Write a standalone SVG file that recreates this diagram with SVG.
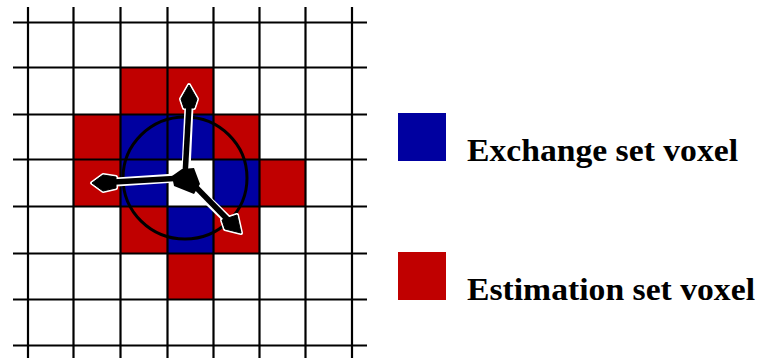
<svg xmlns="http://www.w3.org/2000/svg" width="759" height="358" viewBox="0 0 759 358">
<style>
.red{fill:#c00000}
.blue{fill:#0000a0}
.grid line{stroke:#000;stroke-width:2.2}
.lbl{font-family:"Liberation Serif","Times New Roman",serif;font-weight:bold;font-size:32px;fill:#000}
.ow{fill:none;stroke:#fff;stroke-width:9;stroke-linecap:round}
.oh{fill:#fff;stroke:#fff;stroke-width:4;stroke-linejoin:round}
.bs{fill:none;stroke:#000;stroke-width:5.5}
.bh{fill:#000;stroke:#000;stroke-width:1;stroke-linejoin:round}
</style>
<rect width="759" height="358" fill="#fff"/>
<g id="cells">
<rect class="red" x="120.5" y="67.5" width="47" height="47"/>
<rect class="red" x="167.5" y="67.5" width="46" height="47"/>
<rect class="red" x="73.5" y="114.5" width="47" height="45"/>
<rect class="blue" x="120.5" y="114.5" width="47" height="45"/>
<rect class="blue" x="167.5" y="114.5" width="46" height="45"/>
<rect class="red" x="213.5" y="114.5" width="46" height="45"/>
<rect class="red" x="73.5" y="159.5" width="47" height="47"/>
<rect class="blue" x="120.5" y="159.5" width="47" height="47"/>
<rect class="blue" x="213.5" y="159.5" width="46" height="47"/>
<rect class="red" x="259.5" y="159.5" width="46" height="47"/>
<rect class="red" x="120.5" y="206.5" width="47" height="47"/>
<rect class="blue" x="167.5" y="206.5" width="46" height="47"/>
<rect class="red" x="213.5" y="206.5" width="46" height="47"/>
<rect class="red" x="167.5" y="253.5" width="46" height="46"/>
</g>
<g id="grid" class="grid">
<line x1="28" y1="7" x2="28" y2="358"/>
<line x1="73.5" y1="7" x2="73.5" y2="358"/>
<line x1="120.5" y1="7" x2="120.5" y2="358"/>
<line x1="167.5" y1="7" x2="167.5" y2="358"/>
<line x1="213.5" y1="7" x2="213.5" y2="358"/>
<line x1="259.5" y1="7" x2="259.5" y2="358"/>
<line x1="305.5" y1="7" x2="305.5" y2="358"/>
<line x1="352" y1="7" x2="352" y2="358"/>
<line x1="13" y1="22.5" x2="367" y2="22.5"/>
<line x1="13" y1="67.5" x2="367" y2="67.5"/>
<line x1="13" y1="114.5" x2="367" y2="114.5"/>
<line x1="13" y1="159.5" x2="367" y2="159.5"/>
<line x1="13" y1="206.5" x2="367" y2="206.5"/>
<line x1="13" y1="253.5" x2="367" y2="253.5"/>
<line x1="13" y1="299.5" x2="367" y2="299.5"/>
<line x1="13" y1="345.5" x2="367" y2="345.5"/>
</g>
<g id="circle">
<ellipse cx="185" cy="178" rx="62" ry="61" fill="none" stroke="#000" stroke-width="3"/>
</g>
<g id="connectors">
<path class="ow" d="M186 170 L189 106"/>
<polygon class="oh" points="189,85 197,99 194,108 184,108 181,99"/>
<path class="ow" d="M116 182 L176 178"/>
<polygon class="oh" points="92,183 103,175 116,177 116,188 103,191"/>
<path class="ow" d="M193 186 L228 220"/>
<polygon class="oh" points="241,233 237,215 222,220 225,229"/>
<path class="bs" d="M185 176 L189 105"/>
<polygon class="bh" points="189,85 197,99 194,108 184,108 181,99"/>
<path class="bs" d="M114 182 L183 178"/>
<polygon class="bh" points="92,183 103,175 116,177 116,188 103,191"/>
<path class="bs" d="M188 179 L229 221"/>
<polygon class="bh" points="241,233 237,215 222,220 225,229"/>
<polygon points="172,176 182,169 194,168 200,184 194,194 184,190 174,186" fill="#000"/>
</g>
<g id="legend-exchange">
<rect class="blue" x="398" y="113" width="48" height="48"/>
<text class="lbl" x="467" y="161" textLength="271" lengthAdjust="spacingAndGlyphs">Exchange set voxel</text>
</g>
<g id="legend-estimation">
<rect class="red" x="398" y="252" width="48" height="48"/>
<text class="lbl" x="467" y="300" textLength="288" lengthAdjust="spacingAndGlyphs">Estimation set voxel</text>
</g>
</svg>
